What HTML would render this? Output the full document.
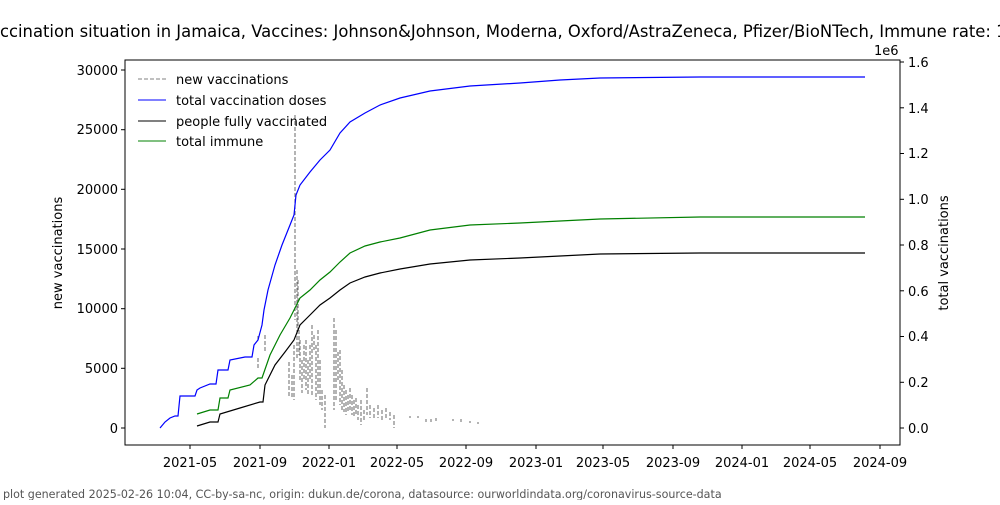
<!DOCTYPE html>
<html><head><meta charset="utf-8"><style>
body{margin:0;background:#fff;width:1000px;height:500px;overflow:hidden}
</style></head><body>
<svg width="1000" height="500" viewBox="0 0 1000 500" xmlns="http://www.w3.org/2000/svg" font-family="DejaVu Sans, Liberation Sans, sans-serif">
<rect width="1000" height="500" fill="#fff"/>
<text x="-20" y="37" font-size="16.4" text-anchor="start">Vaccination situation in Jamaica, Vaccines: Johnson&amp;Johnson, Moderna, Oxford/AstraZeneca, Pfizer/BioNTech, Immune rate: 1x.x%</text>
<rect x="125" y="60" width="775" height="385" fill="none" stroke="#000" stroke-width="1"/>
<g font-size="13" text-anchor="end">
<g stroke="#000"><line x1="121" x2="125" y1="428" y2="428"/><line x1="121" x2="125" y1="368.3" y2="368.3"/><line x1="121" x2="125" y1="308.7" y2="308.7"/><line x1="121" x2="125" y1="249" y2="249"/><line x1="121" x2="125" y1="189.3" y2="189.3"/><line x1="121" x2="125" y1="129.7" y2="129.7"/><line x1="121" x2="125" y1="70" y2="70"/></g>
<text x="118" y="433">0</text><text x="118" y="373">5000</text><text x="118" y="313">10000</text><text x="118" y="254">15000</text><text x="118" y="194">20000</text><text x="118" y="134">25000</text><text x="118" y="75">30000</text>
</g>
<g font-size="13" text-anchor="start">
<g stroke="#000"><line x1="900" x2="904" y1="428" y2="428"/><line x1="900" x2="904" y1="382.3" y2="382.3"/><line x1="900" x2="904" y1="336.5" y2="336.5"/><line x1="900" x2="904" y1="290.8" y2="290.8"/><line x1="900" x2="904" y1="245" y2="245"/><line x1="900" x2="904" y1="199.3" y2="199.3"/><line x1="900" x2="904" y1="153.5" y2="153.5"/><line x1="900" x2="904" y1="107.8" y2="107.8"/><line x1="900" x2="904" y1="62" y2="62"/></g>
<text x="908" y="433">0.0</text><text x="908" y="387">0.2</text><text x="908" y="341">0.4</text><text x="908" y="296">0.6</text><text x="908" y="250">0.8</text><text x="908" y="204">1.0</text><text x="908" y="158">1.2</text><text x="908" y="113">1.4</text><text x="908" y="67">1.6</text>
<text x="874" y="55">1e6</text>
</g>
<g font-size="13" text-anchor="middle">
<g stroke="#000"><line x1="190" x2="190" y1="445" y2="449"/><line x1="260" x2="260" y1="445" y2="449"/><line x1="329" x2="329" y1="445" y2="449"/><line x1="397" x2="397" y1="445" y2="449"/><line x1="466" x2="466" y1="445" y2="449"/><line x1="536" x2="536" y1="445" y2="449"/><line x1="603" x2="603" y1="445" y2="449"/><line x1="673" x2="673" y1="445" y2="449"/><line x1="742" x2="742" y1="445" y2="449"/><line x1="810" x2="810" y1="445" y2="449"/><line x1="880" x2="880" y1="445" y2="449"/></g>
<text x="190" y="467">2021-05</text><text x="260" y="467">2021-09</text><text x="329" y="467">2022-01</text><text x="397" y="467">2022-05</text><text x="466" y="467">2022-09</text><text x="536" y="467">2023-01</text><text x="603" y="467">2023-05</text><text x="673" y="467">2023-09</text><text x="742" y="467">2024-01</text><text x="810" y="467">2024-05</text><text x="880" y="467">2024-09</text>
</g>
<text transform="translate(62,253) rotate(-90)" font-size="13" text-anchor="middle">new vaccinations</text>
<text transform="translate(948,253) rotate(-90)" font-size="13" text-anchor="middle">total vaccinations</text>
<g fill="none" stroke="#777" stroke-width="1.1" stroke-dasharray="4,2">
<path d="M258,358V370 M265,335V352 M258,336V342 M289,362V396 M292,375V398 M294,345V400 M295,115V320 M297,270V360 M298,280V330 M299,330V355 M300,340V380 M302,360V393 M304,345V380 M306,340V390 M308,360V395 M310,345V380 M312,325V395 M314,335V350 M316,345V400 M318,330V395 M320,360V405 M322,390V410 M325,395V428 M334,318V410 M336,330V400 M338,352V380 M340,350V405 M342,370V410 M344,385V412 M346,390V415 M348,395V412 M350,388V410 M352,395V415 M354,400V418 M356,398V415 M358,405V420 M361,400V425 M364,410V420 M367,388V415 M370,405V418 M374,408V420 M378,405V418 M382,410V420 M386,408V418 M390,412V420 M394,415V428 M410,416V418 M418,416V418 M426,419V422 M431,419V422 M436,418V421 M453,419V421 M461,419V422 M470,421V423 M478,422V424"/>
</g>
<polyline fill="none" stroke="#0000ff" stroke-width="1.2" points="160,428 165,422 170,418 175,416 178,416 180,396 195,396 197,390 200,388 210,384 216,384 218,370 228,370 230,360 245,357 252,357 254,345 258,340 262,325 264,310 268,290 275,265 282,245 290,225 294,215 296,195 300,185 310,172 320,160 330,150 340,133 350,122 365,113 380,105 400,98 430,91 470,86 520,83 560,80 600,78 700,77 865,77"/>
<polyline fill="none" stroke="#008000" stroke-width="1.2" points="197,414 210,410 218,410 220,398 228,398 230,390 250,385 258,378 262,378 270,355 280,335 290,318 294,310 300,298 310,290 320,280 330,272 340,262 350,253 365,246 380,242 400,238 430,230 470,225 520,223 560,221 600,219 700,217 865,217"/>
<polyline fill="none" stroke="#000" stroke-width="1.2" points="197,426 210,422 218,422 220,414 240,408 260,402 263,402 265,385 275,365 285,352 294,340 300,325 310,315 320,305 330,298 340,290 350,283 365,277 380,273 400,269 430,264 470,260 520,258 560,256 600,254 700,253 865,253"/>
<g font-size="13">
<line x1="138" x2="166" y1="79" y2="79" stroke="#808080" stroke-dasharray="4,2"/><text x="176" y="84">new vaccinations</text>
<line x1="138" x2="166" y1="100" y2="100" stroke="#0000ff"/><text x="176" y="105">total vaccination doses</text>
<line x1="138" x2="166" y1="121" y2="121" stroke="#000"/><text x="176" y="126">people fully vaccinated</text>
<line x1="138" x2="166" y1="141" y2="141" stroke="#008000"/><text x="176" y="146">total immune</text>
</g>
<text x="3" y="498" font-size="11.1" fill="#555">plot generated 2025-02-26 10:04, CC-by-sa-nc, origin: dukun.de/corona, datasource: ourworldindata.org/coronavirus-source-data</text>
</svg>
</body></html>
